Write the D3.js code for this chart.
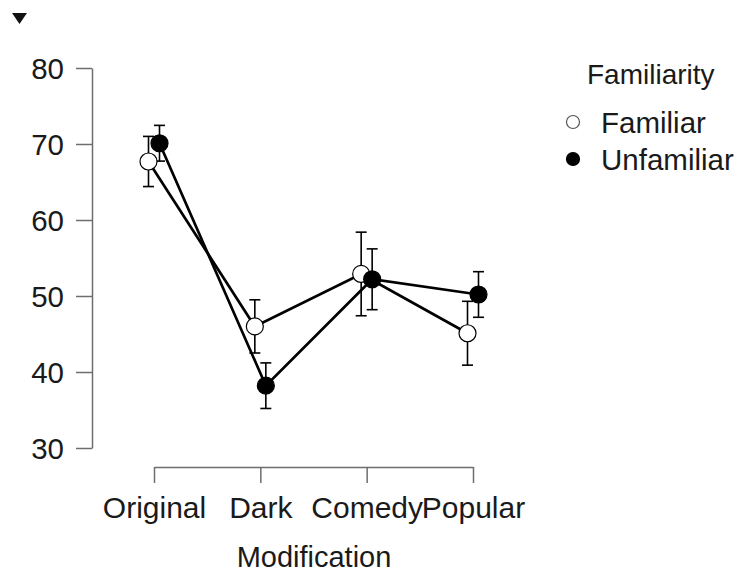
<!DOCTYPE html>
<html>
<head>
<meta charset="utf-8">
<script src="https://cdn.jsdelivr.net/npm/d3@7"></script>
<style>
  html, body { margin: 0; padding: 0; background: #fff; }
  svg { display: block; font-family: "Liberation Sans", Arial, sans-serif; }
</style>
</head>
<body>
<svg id="chart" width="739" height="575"></svg>
<script>
// Descriptive plot: mean score by modification, split by familiarity (95% CI)
const categories = ["Original", "Dark", "Comedy", "Popular"];
const seriesNames = ["Familiar", "Unfamiliar"];
const familiarMeans = [67.7, 46.0, 52.9, 45.1];
const familiarErrors = [3.3, 3.5, 5.5, 4.2];
const unfamiliarMeans = [70.1, 38.2, 52.2, 50.2];
const unfamiliarErrors = [2.35, 3.0, 4.0, 3.0];
const yTicks = [30, 40, 50, 60, 70, 80];
const xTitle = "Modification";
const legendTitle = "Familiarity";

const series = [
  { name: seriesNames[0], means: familiarMeans, errors: familiarErrors, fill: "#fff", dodge: -5.5 },
  { name: seriesNames[1], means: unfamiliarMeans, errors: unfamiliarErrors, fill: "#000", dodge: 5.5 }
];

const svg = d3.select("#chart");
const textColor = "#1a1a1a";
const axisColor = "#6e6e6e";

const x = d3.scalePoint().domain(categories).range([154, 473]);
const y = d3.scaleLinear().domain([30, 80]).range([448, 68]);

// Y axis: ticks pointing left, line spanning tick range
const yAxis = svg.append("g")
  .attr("transform", "translate(92,0)")
  .call(d3.axisLeft(y).tickValues(yTicks).tickSize(16).tickSizeOuter(0).tickPadding(12));
yAxis.select(".domain").attr("stroke", axisColor).attr("stroke-width", 1.5);
yAxis.selectAll(".tick line").attr("stroke", axisColor).attr("stroke-width", 1.5);
yAxis.selectAll(".tick text").attr("fill", textColor).style("font-size", "29.5px")
  .attr("dy", "0.36em");

// X axis: ticks pointing down
const xAxis = svg.append("g")
  .attr("transform", "translate(0,467)")
  .call(d3.axisBottom(x).tickSize(16).tickSizeOuter(0).tickPadding(12));
xAxis.select(".domain").attr("stroke", axisColor).attr("stroke-width", 1.5);
xAxis.selectAll(".tick line").attr("stroke", axisColor).attr("stroke-width", 1.5);
xAxis.selectAll(".tick text").attr("fill", textColor).style("font-size", "30px")
  .attr("dy", "0").attr("y", 51);

svg.append("text")
  .attr("x", 314)
  .attr("y", 567)
  .attr("text-anchor", "middle")
  .attr("fill", textColor)
  .style("font-size", "29px")
  .text(xTitle);

// Connecting lines
const line = d3.line()
  .x(d => d.px)
  .y(d => y(d.mean));

series.forEach(s => {
  s.points = categories.map((c, i) => ({
    px: x(c) + s.dodge, mean: s.means[i], err: s.errors[i]
  }));
});

const plot = svg.append("g");
series.forEach(s => {
  plot.append("path")
    .datum(s.points)
    .attr("d", line)
    .attr("fill", "none")
    .attr("stroke", "#000")
    .attr("stroke-width", 2.7);
});

// Error bars
series.forEach(s => {
  const eb = plot.append("g").selectAll("g").data(s.points).join("g");
  eb.append("line")
    .attr("x1", d => d.px).attr("x2", d => d.px)
    .attr("y1", d => y(d.mean - d.err)).attr("y2", d => y(d.mean + d.err))
    .attr("stroke", "#000").attr("stroke-width", 1.6);
  [-1, 1].forEach(sign => {
    eb.append("line")
      .attr("x1", d => d.px - 5.5).attr("x2", d => d.px + 5.5)
      .attr("y1", d => y(d.mean + sign * d.err)).attr("y2", d => y(d.mean + sign * d.err))
      .attr("stroke", "#000").attr("stroke-width", 1.6);
  });
});

// Points
series.forEach(s => {
  plot.append("g").selectAll("circle").data(s.points).join("circle")
    .attr("cx", d => d.px)
    .attr("cy", d => y(d.mean))
    .attr("r", 8.5)
    .attr("fill", s.fill)
    .attr("stroke", "#000")
    .attr("stroke-width", 1.2);
});

// Legend
const legend = svg.append("g");
legend.append("text")
  .attr("x", 587).attr("y", 84)
  .attr("fill", textColor)
  .style("font-size", "28px")
  .text(legendTitle);
const items = legend.selectAll("g.item").data(series).join("g")
  .attr("class", "item")
  .attr("transform", (d, i) => `translate(0,${122 + i * 37})`);
items.append("circle")
  .attr("cx", 573).attr("cy", 0).attr("r", 6.5)
  .attr("fill", d => d.fill)
  .attr("stroke", d => d.fill === "#000" ? "#000" : "#555")
  .attr("stroke-width", 1.2);
items.append("text")
  .attr("x", 601).attr("y", 0).attr("dy", "0.36em")
  .attr("fill", textColor)
  .style("font-size", "29.5px")
  .text(d => d.name);

// Collapse marker in the top-left corner
svg.append("path")
  .attr("d", d3.line()([[12, 13], [27, 13], [19.5, 24]]) + "Z")
  .attr("fill", "#111");
</script>
</body>
</html>
